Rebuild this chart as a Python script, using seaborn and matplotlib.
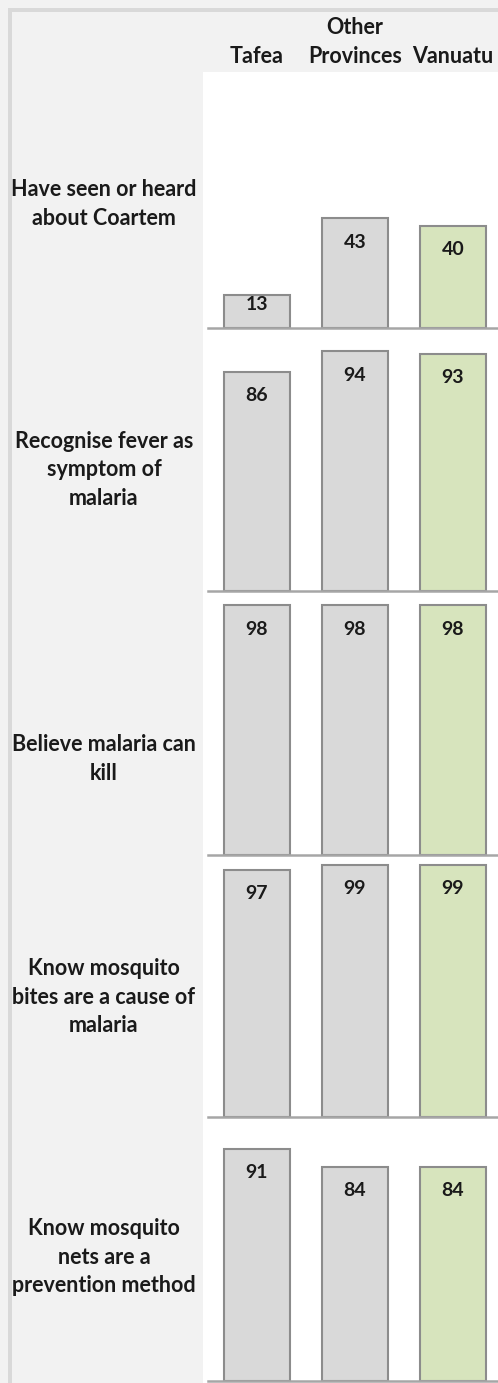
import matplotlib
matplotlib.use("Agg")
import matplotlib.pyplot as plt
import matplotlib.transforms as mtransforms
from matplotlib.patches import Rectangle
import pandas as pd
import seaborn as sns

sns.set_theme(style="white")
plt.rcParams["font.family"] = ["Lato", "DejaVu Sans"]

# ---- data -------------------------------------------------------------
regions = ["Tafea", "Other Provinces", "Vanuatu"]
header_labels = ["Tafea", "Other\nProvinces", "Vanuatu"]
indicators = [
    "Have seen or heard\nabout Coartem",
    "Recognise fever as\nsymptom of\nmalaria",
    "Believe malaria can\nkill",
    "Know mosquito\nbites are a cause of\nmalaria",
    "Know mosquito\nnets are a\nprevention method",
]
seen_coartem = [13, 43, 40]
fever_symptom = [86, 94, 93]
malaria_kills = [98, 98, 98]
bites_cause = [97, 99, 99]
nets_prevent = [91, 84, 84]
series = [seen_coartem, fever_symptom, malaria_kills, bites_cause, nets_prevent]

# ---- styling ------------------------------------------------------------
GREY = "#d9d9d9"
GREEN = "#d7e4bd"
EDGE = "#8c8c8c"
TEXT = "#1a1a1a"
palette = [GREY, GREY, GREEN]

W, H = 498, 1383
fig = plt.figure(figsize=(W / 100, H / 100), dpi=100, facecolor="#f2f2f2")


def fx(px):
    return px / W


def fy(py):
    return 1 - py / H


# window frame and white plotting area
fig.patches.append(Rectangle((fx(8), 0), 4 / W, fy(8), transform=fig.transFigure,
                             facecolor="#d9d9d9", edgecolor="none", zorder=-2))
fig.patches.append(Rectangle((fx(8), fy(12)), 1 - fx(8), 4 / H, transform=fig.transFigure,
                             facecolor="#d9d9d9", edgecolor="none", zorder=-2))
fig.patches.append(Rectangle((fx(203), 0), 1 - fx(203), fy(72), transform=fig.transFigure,
                             facecolor="white", edgecolor="none", zorder=-2))

baselines = [328, 591, 855, 1117, 1381]
label_centers = [204, 470, 759, 997, 1257]
panel_h = 255

axes = []
for k, (vals, base) in enumerate(zip(series, baselines)):
    ax = fig.add_axes([fx(208), fy(base), (W - 208) / W, panel_h / H])
    ax.set_zorder(2)
    ax.set_facecolor("none")
    df = pd.DataFrame({"region": regions, "value": vals})
    sns.barplot(data=df, x="region", y="value", hue="region", order=regions,
                hue_order=regions, palette=palette, legend=False, width=0.67,
                edgecolor=EDGE, linewidth=1.5, saturation=1, ax=ax)
    ax.set_xlim(-0.5, 2.46)
    ax.set_ylim(0, 100)
    ax.set_xlabel("")
    ax.set_ylabel("")
    ax.set_xticks([])
    ax.set_yticks([])
    for side in ("top", "left", "right"):
        ax.spines[side].set_visible(False)
    ax.spines["bottom"].set_color("#a6a6a6")
    ax.spines["bottom"].set_linewidth(1.8)
    for i, v in enumerate(vals):
        off = min(9.4, 0.3 * v)
        ax.text(i, v - off, f"{v}", ha="center", va="center", fontsize=14,
                fontweight="bold", color=TEXT)
    fig.text(fx(104), fy(label_centers[k]), indicators[k], ha="center", va="center",
             fontsize=15.5, fontweight="bold", color=TEXT, linespacing=1.45)
    axes.append(ax)

# column headers over the top panel
hdr_tr = mtransforms.blended_transform_factory(axes[0].transData, fig.transFigure)
for i, lab in enumerate(header_labels):
    axes[0].text(i, fy(67), lab, transform=hdr_tr, ha="center", va="bottom",
                 fontsize=15.5, fontweight="bold", color=TEXT, linespacing=1.5,
                 clip_on=False)

fig.savefig("out.png", dpi=100, facecolor=fig.get_facecolor())
